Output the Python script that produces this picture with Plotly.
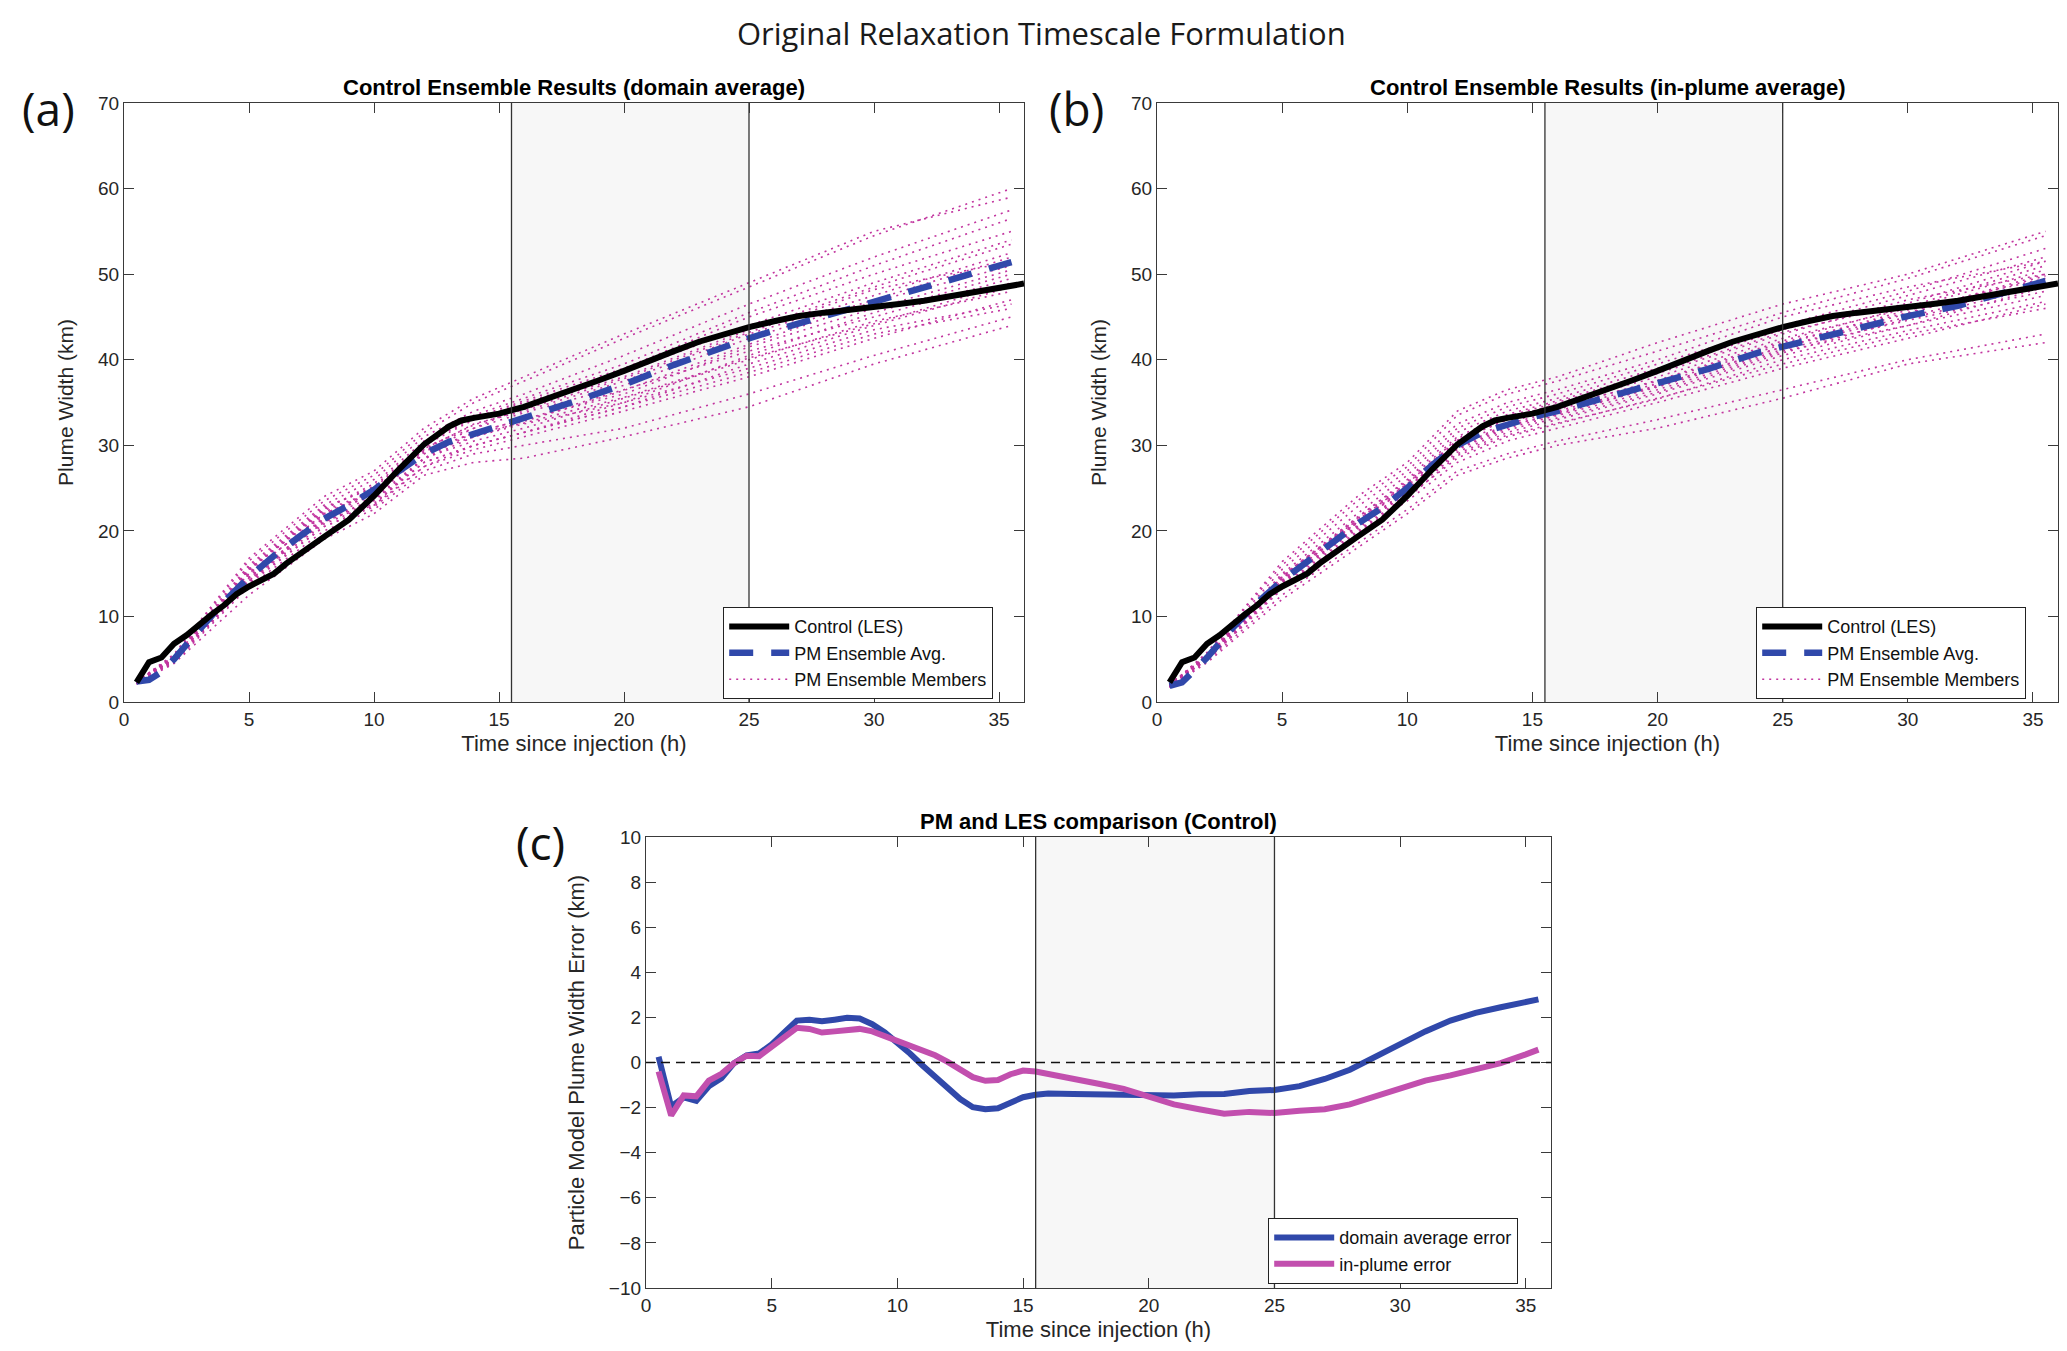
import plotly.graph_objects as go

# ---------------- data ----------------
t_les = [0.5, 1, 1.5, 2, 2.5, 3, 3.5, 4, 4.5, 5, 5.5, 6, 6.5, 7, 8, 9, 10, 11, 12, 13, 13.5, 14,
         15, 16, 17, 18, 19, 20, 21, 22, 23, 24, 25, 26, 27, 28, 29, 30, 31, 32, 33, 34, 35, 36]
les_width = [2.3, 4.65, 5.2, 6.8, 7.8, 9.1, 10.2, 11.3, 12.6, 13.5, 14.2, 15.0, 16.2, 17.3, 19.3, 21.3,
             24.1, 27.2, 30.1, 32.2, 32.9, 33.2, 33.7, 34.5, 35.5, 36.5, 37.6, 38.7, 39.9, 41.0, 42.1,
             43.0, 43.8, 44.5, 45.1, 45.5, 45.8, 46.2, 46.5, 46.9, 47.4, 47.9, 48.4, 48.9]

t_avg = [0.5, 1, 1.5, 2, 3, 4, 5, 6, 7, 8, 9, 10, 11, 12, 13, 14, 15, 16, 18, 20, 22, 24, 25, 26,
         28, 30, 32, 34, 35.5]
pm_avg_domain = [2.4, 2.6, 3.5, 5.0, 8.4, 11.7, 14.6, 17.1, 19.3, 21.4, 23.0, 24.8, 27.0, 29.0,
                 30.4, 31.4, 32.3, 33.2, 35.1, 37.1, 39.4, 41.6, 42.5, 43.4, 45.1, 46.9, 48.6, 50.2, 51.4]
pm_avg_inplume = [1.9, 2.3, 3.7, 5.2, 8.6, 11.6, 14.2, 16.5, 18.6, 20.8, 22.7, 25.0, 27.7, 30.0,
                  31.5, 32.4, 33.3, 34.0, 35.6, 37.2, 38.9, 40.8, 41.5, 42.3, 43.6, 45.1, 46.3, 47.9, 49.2]

t_mem = [0.5, 2, 5, 8, 10, 12, 14, 16, 20, 25, 30, 35.5]
members_domain = [
    [2.2, 5.2, 15.5, 22.5, 25.5, 30.5, 33.5, 35.5, 39.5, 45.5, 51.0, 56.5],
    [2.4, 5.0, 14.5, 21.0, 23.5, 28.0, 30.0, 31.5, 34.5, 39.5, 44.0, 48.5],
    [2.3, 5.5, 16.5, 23.5, 26.5, 31.5, 35.0, 37.5, 42.5, 48.5, 54.5, 60.0],
    [2.1, 4.6, 13.5, 20.0, 22.5, 27.0, 29.0, 30.0, 32.0, 36.0, 40.5, 45.0],
    [2.5, 5.3, 15.0, 22.0, 24.5, 29.5, 32.5, 34.0, 37.5, 43.0, 47.5, 52.5],
    [2.2, 4.8, 14.0, 21.5, 24.0, 29.0, 31.0, 32.5, 35.0, 40.5, 45.5, 50.0],
    [2.3, 5.1, 15.8, 22.8, 25.0, 30.0, 33.0, 35.0, 38.5, 44.0, 49.0, 54.0],
    [2.4, 4.9, 14.8, 21.2, 23.0, 27.5, 29.5, 31.0, 34.0, 38.0, 42.5, 47.0],
    [2.2, 5.4, 16.0, 23.0, 26.0, 31.0, 34.0, 36.0, 40.5, 46.5, 52.0, 57.5],
    [2.3, 4.7, 13.8, 20.5, 23.0, 28.5, 31.5, 33.0, 36.0, 41.5, 46.0, 50.5],
    [2.5, 5.0, 15.2, 21.8, 24.8, 29.8, 32.0, 33.8, 37.0, 42.5, 47.0, 52.0],
    [2.1, 4.5, 12.5, 19.0, 22.0, 26.5, 28.0, 28.5, 31.0, 34.5, 39.5, 44.0],
    [2.4, 5.2, 15.5, 22.2, 24.5, 29.0, 31.5, 33.0, 36.5, 41.0, 45.0, 49.5],
    [2.3, 5.6, 16.8, 24.0, 27.0, 32.0, 35.5, 38.0, 43.0, 49.0, 55.0, 59.0],
    [2.2, 4.9, 14.5, 21.0, 23.8, 28.5, 30.5, 32.0, 35.5, 40.0, 44.5, 48.0],
    [2.3, 5.0, 15.0, 22.0, 24.2, 29.2, 32.0, 34.5, 38.0, 43.5, 48.5, 53.5],
    [2.4, 5.1, 14.2, 20.8, 23.2, 28.0, 30.0, 31.5, 35.0, 39.0, 43.5, 46.5],
    [2.2, 5.3, 15.6, 22.6, 25.2, 30.2, 33.2, 35.2, 39.0, 45.0, 50.0, 55.0],
    [2.3, 4.8, 14.0, 20.5, 22.8, 27.5, 30.0, 31.5, 34.5, 38.5, 43.0, 46.0],
    [2.3, 5.2, 15.4, 22.4, 24.6, 29.6, 32.4, 34.2, 37.8, 43.2, 48.2, 51.5],
    [2.4, 5.0, 14.6, 21.4, 23.6, 28.4, 31.0, 32.8, 36.4, 41.8, 46.8, 51.0],
    [2.2, 4.7, 14.2, 21.6, 24.4, 29.4, 31.4, 32.6, 35.6, 40.2, 44.2, 49.0],
]
members_inplume = [
    [1.8, 5.4, 14.5, 21.5, 26.0, 31.5, 34.0, 35.5, 39.0, 43.5, 47.5, 52.0],
    [2.0, 5.0, 13.5, 19.5, 23.5, 28.0, 30.5, 32.0, 35.0, 39.0, 42.5, 46.5],
    [1.9, 5.8, 16.0, 23.5, 27.5, 33.5, 36.0, 37.5, 41.0, 45.5, 49.5, 54.5],
    [1.7, 4.8, 12.5, 18.5, 22.5, 27.0, 29.0, 30.5, 33.0, 36.5, 40.0, 43.0],
    [2.1, 5.3, 14.2, 21.0, 25.2, 30.5, 33.0, 34.5, 37.5, 42.0, 45.5, 50.0],
    [1.9, 5.1, 13.8, 20.2, 24.5, 29.5, 32.0, 33.5, 36.5, 41.0, 44.0, 48.5],
    [1.8, 5.5, 15.0, 22.0, 26.5, 32.0, 34.5, 36.0, 39.5, 44.0, 48.0, 53.0],
    [2.0, 4.9, 13.2, 19.8, 24.0, 28.5, 31.0, 32.5, 35.5, 39.5, 43.0, 46.0],
    [1.9, 5.6, 15.5, 22.8, 27.0, 32.5, 35.0, 36.5, 40.0, 45.0, 48.5, 51.5],
    [2.0, 5.2, 14.0, 20.5, 24.8, 29.8, 32.5, 34.0, 37.0, 41.5, 45.0, 49.0],
    [1.8, 5.0, 14.8, 21.2, 25.5, 30.8, 33.2, 34.8, 38.0, 42.5, 46.0, 50.5],
    [1.7, 4.6, 12.0, 18.0, 22.0, 26.5, 28.5, 30.0, 32.0, 35.5, 39.5, 42.0],
    [2.1, 5.4, 14.6, 21.4, 25.6, 30.6, 33.0, 34.2, 37.2, 41.8, 45.8, 49.5],
    [1.9, 5.7, 16.4, 24.0, 28.0, 34.0, 36.5, 38.0, 42.0, 46.5, 50.0, 55.0],
    [2.0, 5.0, 13.6, 20.0, 24.2, 29.0, 31.5, 33.0, 36.0, 40.5, 44.0, 47.5],
    [1.8, 5.3, 14.4, 21.0, 25.0, 30.2, 32.6, 34.4, 37.6, 42.2, 46.2, 51.0],
    [1.9, 5.1, 13.9, 20.6, 24.6, 29.6, 32.2, 33.8, 36.8, 41.2, 44.6, 48.0],
    [2.0, 5.2, 14.3, 21.2, 25.4, 30.4, 33.4, 35.0, 38.4, 43.0, 47.0, 50.0],
    [1.8, 4.9, 13.4, 19.6, 23.8, 28.8, 31.2, 32.6, 35.4, 40.0, 43.4, 46.8],
    [2.0, 5.3, 14.7, 21.6, 25.8, 31.0, 33.6, 35.2, 38.6, 43.2, 46.6, 51.5],
    [1.9, 5.2, 14.1, 20.9, 25.1, 29.9, 32.3, 33.6, 36.9, 41.5, 45.4, 49.8],
    [1.9, 5.0, 13.9, 20.4, 24.4, 29.2, 31.8, 33.2, 36.2, 40.8, 44.8, 48.6],
]

t_err = [0.5, 1, 1.5, 2, 2.5, 3, 3.5, 4, 4.5, 5, 5.5, 6, 6.5, 7, 7.5, 8, 8.5, 9, 9.5, 10, 10.5, 11,
         11.5, 12, 12.5, 13, 13.5, 14, 14.5, 15, 15.5, 16, 17, 18, 19, 20, 21, 22, 23, 24, 25, 26,
         27, 28, 29, 30, 31, 32, 33, 34, 35, 35.5]
err_domain = [0.25, -1.95, -1.55, -1.7, -1.05, -0.7, -0.03, 0.32, 0.4, 0.8, 1.33, 1.86, 1.9, 1.83,
              1.9, 1.98, 1.95, 1.7, 1.33, 0.9, 0.4, -0.13, -0.65, -1.13, -1.62, -1.98, -2.07, -2.03,
              -1.75, -1.54, -1.43, -1.38, -1.4, -1.43, -1.46, -1.49, -1.46, -1.41, -1.4, -1.26, -1.22,
              -1.05, -0.73, -0.32, 0.24, 0.81, 1.38, 1.86, 2.2, 2.45, 2.7, 2.8]
err_inplume = [-0.4, -2.35, -1.46, -1.5, -0.8, -0.5, -0.03, 0.3, 0.28, 0.7, 1.13, 1.54, 1.49, 1.33,
               1.38, 1.46, 1.49, 1.38, 1.17, 0.94, 0.73, 0.57, 0.32, 0.03, -0.32, -0.65, -0.81, -0.78,
               -0.52, -0.36, -0.4, -0.52, -0.73, -0.94, -1.17, -1.54, -1.86, -2.07, -2.27, -2.19, -2.24,
               -2.14, -2.07, -1.86, -1.49, -1.13, -0.8, -0.57, -0.32, -0.03, 0.36, 0.57]

shade_window = [15.5, 25]

x_ticks = [0, 5, 10, 15, 20, 25, 30, 35]
y_ticks_width = [0, 10, 20, 30, 40, 50, 60, 70]
y_ticks_err = [-10, -8, -6, -4, -2, 0, 2, 4, 6, 8, 10]

suptitle = "Original Relaxation Timescale Formulation"
titles = ["Control Ensemble Results (domain average)",
          "Control Ensemble Results (in-plume average)",
          "PM and LES comparison (Control)"]
panel_labels = ["(a)", "(b)", "(c)"]
x_label = "Time since injection (h)"
y_label_width = "Plume Width (km)"
y_label_err = "Particle Model Plume Width Error (km)"
legend_names = ["Control (LES)", "PM Ensemble Avg.", "PM Ensemble Members"]
err_names = ["domain average error", "in-plume error"]

# ---------------- styles ----------------
W, H = 2067, 1351
NARROW = "Liberation Sans Narrow, Liberation Sans, Arial, sans-serif"
HELV = "Liberation Sans, Arial, sans-serif"
MYRIAD = "Open Sans, Noto Sans, sans-serif"
AXC = "#3a3a3a"
BLACK = "#000000"
BLUE = "#3048aa"
MAG = "#c2359f"
PINK = "#c24fae"

fig = go.Figure()

def add_width_panel(xa, ya, members, avg, legend):
    for i, m in enumerate(members):
        fig.add_trace(go.Scatter(
            x=t_mem, y=m, xaxis=xa, yaxis=ya, mode="lines",
            line=dict(color=MAG, width=1.6, dash="2px,5px"),
            name=legend_names[2], legendgroup=legend + "m", showlegend=(i == 0),
            legend=legend, legendrank=3, hoverinfo="skip"))
    fig.add_trace(go.Scatter(
        x=t_avg, y=avg, xaxis=xa, yaxis=ya, mode="lines",
        line=dict(color=BLUE, width=6.5, dash="24px,18px"),
        name=legend_names[1], legend=legend, legendrank=2))
    fig.add_trace(go.Scatter(
        x=t_les, y=les_width, xaxis=xa, yaxis=ya, mode="lines",
        line=dict(color=BLACK, width=6),
        name=legend_names[0], legend=legend, legendrank=1))

add_width_panel("x", "y", members_domain, pm_avg_domain, "legend")
add_width_panel("x2", "y2", members_inplume, pm_avg_inplume, "legend2")

fig.add_trace(go.Scatter(x=t_err, y=err_domain, xaxis="x3", yaxis="y3", mode="lines",
                         line=dict(color=BLUE, width=6), name=err_names[0], legend="legend3"))
fig.add_trace(go.Scatter(x=t_err, y=err_inplume, xaxis="x3", yaxis="y3", mode="lines",
                         line=dict(color=PINK, width=6), name=err_names[1], legend="legend3"))

# paper-space layout (pixels -> fractions)
def px(x):
    return x / W

def py(y):
    return 1 - y / H

doms = {
    "": ([px(116), px(1016)], [py(694), py(95)]),
    "2": ([px(1149), px(2050)], [py(694), py(95)]),
    "3": ([px(638), px(1543)], [py(1280), py(829)]),
}

axis_common = dict(
    showline=True, linecolor=AXC, linewidth=1.2, mirror="allticks",
    ticks="inside", ticklen=10, tickwidth=1.2, tickcolor=AXC,
    showgrid=False, zeroline=False, automargin=False,
    tickfont=dict(family=NARROW, size=19, color="#262626"),
)

for k, (xd, yd) in doms.items():
    xr = [0, 36]
    if k == "3":
        yr, yt, ytitle, ysize = [-10, 10], y_ticks_err, y_label_err, 22
    else:
        yr, yt, ytitle, ysize = [0, 70], y_ticks_width, y_label_width, 21
    fig.layout["xaxis" + k] = dict(
        axis_common, domain=xd, range=xr, tickvals=x_ticks,
        anchor="y" + k,
        title=dict(text=x_label, font=dict(family=NARROW, size=22, color="#262626"), standoff=6))
    fig.layout["yaxis" + k] = dict(
        axis_common, domain=yd, range=yr, tickvals=yt,
        anchor="x" + k,
        title=dict(text=ytitle, font=dict(family=HELV, size=ysize, color="#262626"), standoff=18))

# shaded window + vertical lines
shapes = []
for k in ["", "2", "3"]:
    shapes.append(dict(type="rect", xref="x" + k, yref="y" + k + " domain",
                       x0=shade_window[0], x1=shade_window[1], y0=0, y1=1,
                       fillcolor="#f7f7f7", line=dict(width=0), layer="below"))
    for xv in shade_window:
        shapes.append(dict(type="line", xref="x" + k, yref="y" + k + " domain",
                           x0=xv, x1=xv, y0=0, y1=1,
                           line=dict(color="#333333", width=1.3), layer="above"))
shapes.append(dict(type="line", xref="x3 domain", yref="y3", x0=0, x1=1, y0=0, y1=0,
                   line=dict(color="#111111", width=1.3, dash="9px,6px"), layer="above"))

annotations = [
    dict(text=suptitle, x=0.5, y=py(25), xref="paper", yref="paper", showarrow=False,
         font=dict(family=MYRIAD, size=31, color="#1a1a1a"), xanchor="center", yanchor="middle"),
]
title_pos = [((116 + 1016) / 2, 79), ((1149 + 2050) / 2, 79), ((638 + 1543) / 2, 813)]
for (tx, ty), tt in zip(title_pos, titles):
    annotations.append(dict(text="<b>" + tt + "</b>", x=px(tx), y=py(ty), xref="paper", yref="paper",
                            showarrow=False, xanchor="center", yanchor="middle",
                            font=dict(family=NARROW, size=22, color="#000000")))
label_pos = [(40, 100), (1068, 100), (532, 834)]
for (lx, ly), lt in zip(label_pos, panel_labels):
    annotations.append(dict(text=lt, x=px(lx), y=py(ly), xref="paper", yref="paper",
                            showarrow=False, xanchor="center", yanchor="middle",
                            font=dict(family=MYRIAD, size=46, color="#111111")))

leg_common = dict(bgcolor="white", bordercolor="#222222", borderwidth=1.2,
                  font=dict(family=NARROW, size=18, color="#111111"),
                  xanchor="left", yanchor="top", itemwidth=60, tracegroupgap=0,
                  xref="paper", yref="paper")

fig.update_layout(
    width=W, height=H, autosize=False,
    margin=dict(l=0, r=0, t=0, b=0),
    paper_bgcolor="white", plot_bgcolor="white",
    shapes=shapes, annotations=annotations,
    legend=dict(leg_common, x=px(715), y=py(599)),
    legend2=dict(leg_common, x=px(1748), y=py(599)),
    legend3=dict(leg_common, x=px(1260), y=py(1210)),
)

fig.write_html("out.html")
